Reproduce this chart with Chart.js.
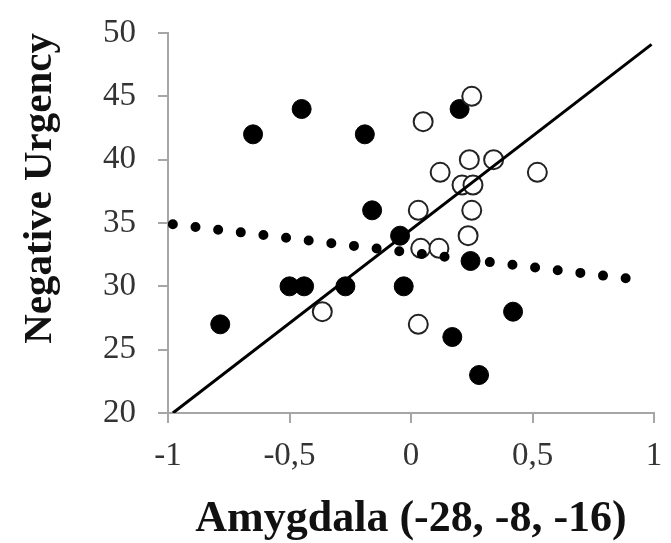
<!DOCTYPE html>
<html>
<head>
<meta charset="utf-8">
<script src="https://cdn.jsdelivr.net/npm/chart.js@4/dist/chart.umd.min.js"></script>
<style>
  body { margin: 0; background: #fff; }
  canvas { display: block; background: #fff; }
</style>
</head>
<body>
<canvas id="chart" width="671" height="543"></canvas>
<script>
// filled circles
const filledX = [-0.65, -0.45, -0.19, 0.20, -0.16, -0.045, -0.50, -0.44, -0.27, -0.03, -0.785, 0.17, 0.28, 0.42, 0.245];
const filledY = [42, 44, 42, 44, 36, 34, 30, 30, 30, 30, 27, 26, 23, 28, 32];

// open circles
const openX = [0.25, 0.05, 0.24, 0.34, 0.12, 0.52, 0.21, 0.255, 0.25, 0.03, 0.235, 0.04, 0.115, -0.365, 0.03];
const openY = [45, 43, 40, 40, 39, 39, 38, 38, 36, 36, 34, 33, 33, 28, 27];

// trend lines (end points)
const solidFitX = [-0.98, 0.99];
const solidFitY = [20, 49.1];
const dottedFitX = [-0.98, 0.907];
const dottedFitY = [34.9, 30.58];

const xTicks = [-1, -0.5, 0, 0.5, 1];
const yTicks = [20, 25, 30, 35, 40, 45, 50];

const toPoints = (xs, ys) => xs.map((x, i) => ({ x: x, y: ys[i] }));

const axisGray = '#a6a6a6';
const serif = "'Liberation Serif', 'Times New Roman', serif";

const ctx = document.getElementById('chart').getContext('2d');
new Chart(ctx, {
  type: 'scatter',
  data: {
    datasets: [
      {
        label: 'solid fit',
        type: 'line',
        data: toPoints(solidFitX, solidFitY),
        borderColor: '#000',
        borderWidth: 3,
        pointRadius: 0,
        fill: false,
        order: 0
      },
      {
        label: 'dotted fit',
        type: 'line',
        data: toPoints(dottedFitX, dottedFitY),
        borderColor: '#000',
        borderWidth: 10,
        borderDash: [0, 22.8],
        borderCapStyle: 'round',
        pointRadius: 0,
        fill: false,
        order: 0
      },
      {
        label: 'open',
        data: toPoints(openX, openY),
        backgroundColor: '#fff',
        borderColor: '#222',
        borderWidth: 2,
        pointRadius: 9.5,
        order: 1
      },
      {
        label: 'filled',
        data: toPoints(filledX, filledY),
        backgroundColor: '#000',
        borderColor: '#000',
        borderWidth: 1,
        pointRadius: 9.5,
        order: 1
      }
    ]
  },
  options: {
    responsive: false,
    animation: false,
    devicePixelRatio: 1,
    layout: { padding: { left: 0, right: 17, top: 33, bottom: 0 } },
    plugins: {
      legend: { display: false },
      tooltip: { enabled: false }
    },
    scales: {
      x: {
        type: 'linear',
        min: -1,
        max: 1,
        afterBuildTicks: s => { s.ticks = xTicks.map(v => ({ value: v })); },
        afterFit: s => { s.height = 130; s.paddingLeft = 0; s.paddingRight = 0; },
        ticks: {
          color: '#333',
          padding: 14,
          font: { family: serif, size: 33 },
          callback: v => String(v).replace('.', ',')
        },
        grid: { drawOnChartArea: false, tickLength: 10, color: axisGray, lineWidth: 2 },
        border: { color: axisGray, width: 2 },
        title: {
          display: true,
          text: 'Amygdala (-28, -8, -16)',
          color: '#111',
          font: { family: serif, size: 44, weight: 'bold' },
          padding: { top: 0, bottom: -3 }
        }
      },
      y: {
        type: 'linear',
        min: 20,
        max: 50,
        afterBuildTicks: s => { s.ticks = yTicks.map(v => ({ value: v })); },
        afterFit: s => { s.width = 168; s.paddingTop = 0; s.paddingBottom = 0; },
        ticks: {
          color: '#333',
          padding: 22,
          font: { family: serif, size: 33 }
        },
        grid: { drawOnChartArea: false, tickLength: 10, color: axisGray, lineWidth: 2 },
        border: { color: axisGray, width: 2 },
        title: {
          display: true,
          text: 'Negative Urgency',
          color: '#111',
          align: 'end',
          font: { family: serif, size: 41, weight: 'bold' },
          padding: { top: 16, bottom: 0 }
        }
      }
    }
  }
});
</script>
</body>
</html>
